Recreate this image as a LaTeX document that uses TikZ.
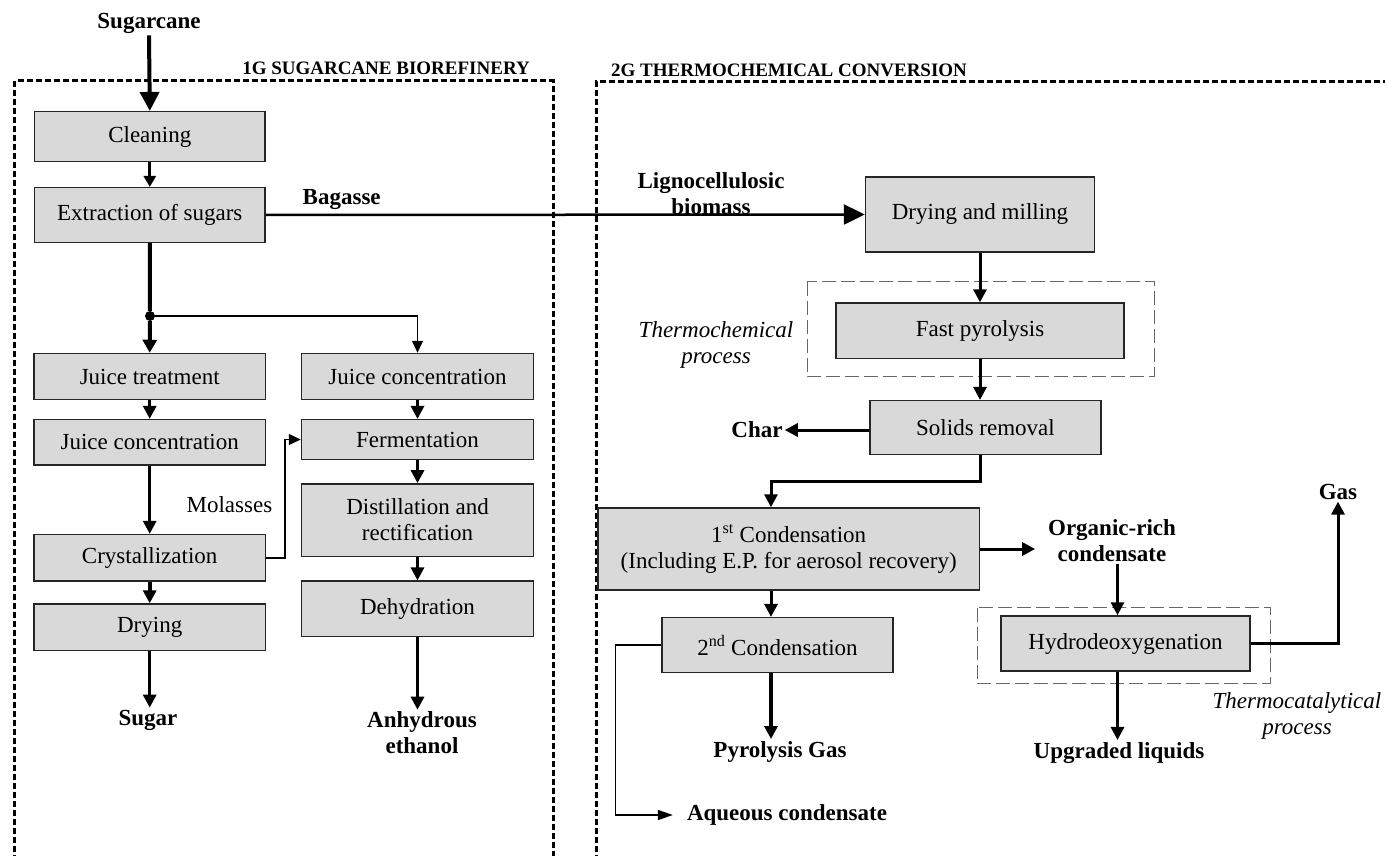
\documentclass[tikz,border=0pt]{standalone}
\usepackage{fontspec}
\setmainfont{Liberation Serif}
\usetikzlibrary{arrows.meta,calc}
\newcommand\bxf{\fontsize{23}{26}\selectfont}
\newcommand\ttlf{\fontsize{19}{22}\selectfont\bfseries}
\tikzset{
  box/.style={draw=black!85, line width=1.5pt, fill=gray!30, inner sep=0pt, align=center, font=\bxf},
  lbl/.style={inner sep=2pt, align=center, font=\bxf\bfseries},
  conn/.style={line width=3pt, -{Triangle[length=13pt,width=13pt]}},
  thinconn/.style={line width=1.5pt, -{Triangle[length=12pt,width=11pt]}},
  bigdash/.style={line width=3pt, dash pattern=on 6pt off 3pt},
  smalldash/.style={draw=black!60, line width=1pt, dash pattern=on 14pt off 5pt},
}
\begin{document}
\begin{tikzpicture}[x=1pt,y=-1pt]
\path[use as bounding box] (0,0) rectangle (1385,856);
\fill[white] (0,0) rectangle (1385,856);
\begin{scope}
\clip (0,0) rectangle (1385,856);
% big dashed regions
\draw[bigdash] (14.7,870) -- (14.7,81) -- (553,81) -- (553,870);
\draw[bigdash] (596,870) -- (596,82) -- (1400,82);
\node[font=\ttlf, inner sep=0pt, anchor=east] (t1) at (530,68) {1G SUGARCANE BIOREFINERY};
\node[font=\ttlf, inner sep=0pt, anchor=west] (t2) at (611,70) {2G THERMOCHEMICAL CONVERSION};

% thin dashed process frames
\draw[smalldash] (807.4,281.7) rectangle (1154,376.7);
\draw[smalldash] (977,607.7) rectangle (1270.5,683.3);

% left column
\node[box, minimum width=230.8pt, minimum height=50pt] (clean) at (149.8,136.7) {Cleaning};
\node[box, minimum width=230.8pt, minimum height=54.6pt] (extr) at (149.8,215) {Extraction of sugars};
\node[box, minimum width=231.3pt, minimum height=46pt] (jtreat) at (149.7,376.5) {Juice treatment};
\node[box, minimum width=231.3pt, minimum height=45.2pt] (jconcL) at (149.7,442.2) {Juice concentration};
\node[box, minimum width=231.3pt, minimum height=46.6pt] (cryst) at (149.7,557.9) {Crystallization};
\node[box, minimum width=231.3pt, minimum height=46.3pt] (dry) at (149.7,627.2) {Drying};
% right column of 1G
\node[box, minimum width=232pt, minimum height=46pt] (jconcR) at (417.5,376.5) {Juice concentration};
\node[box, minimum width=232pt, minimum height=39.7pt] (ferm) at (417.5,439.5) {Fermentation};
\node[box, minimum width=232pt, minimum height=72.4pt] (dist) at (417.5,520.1) {Distillation and\\rectification};
\node[box, minimum width=232pt, minimum height=55.2pt] (dehyd) at (417.5,608.8) {Dehydration};

% 2G boxes
\node[box, minimum width=229pt, minimum height=75pt] (drymill) at (980,214.5) {Drying and milling};
\node[box, minimum width=288.3pt, minimum height=55.3pt] (fastpyr) at (980,330.7) {Fast pyrolysis};
\node[box, minimum width=231pt, minimum height=53.6pt] (solids) at (985.5,427.5) {Solids removal};
\node[box, minimum width=381.4pt, minimum height=82pt] (cond1) at (788.7,549) {1\textsuperscript{st} Condensation\\(Including E.P. for aerosol recovery)};
\node[box, minimum width=231pt, minimum height=55pt] (cond2) at (777.5,645.2) {2\textsuperscript{nd} Condensation};
\node[box, minimum width=249pt, minimum height=55pt] (hdo) at (1125.5,643.5) {Hydrodeoxygenation};

% labels
\node[lbl] (sugarcane) at (149,23) {Sugarcane};
\node[lbl] (sugar) at (148,720) {Sugar};
\node[lbl] (ethanol) at (422,733) {Anhydrous\\ethanol};
\node[lbl] (bagasse) at (341.7,199.3) {Bagasse};
\node[lbl, font=\fontsize{23}{26.7}\selectfont\bfseries] (ligno) at (711,193.5) {Lignocellulosic\\biomass};
\node[lbl, font=\bxf] (molasses) at (229.4,504.8) {Molasses};
\node[lbl, font=\bxf\itshape] (thermo) at (716,345) {Thermochemical\\process};
\node[lbl] (char) at (757,430) {Char};
\node[lbl] (organic) at (1112,540.5) {Organic-rich\\condensate};
\node[lbl] (gas) at (1338,491.7) {Gas};
\node[lbl] (upgraded) at (1119,752.7) {Upgraded liquids};
\node[lbl] (pyrgas) at (780,751.7) {Pyrolysis Gas};
\node[lbl, inner sep=0pt, anchor=west] (aqueous) at (686.8,815) {Aqueous condensate};
\node[lbl, font=\bxf\itshape] (thermocat) at (1297,716) {Thermocatalytical\\process};

% helper columns
\coordinate (colA) at (771,0);
\coordinate (colB) at (1117.5,0);
\node[circle, fill=black, inner sep=0pt, minimum size=10pt] (jn) at (150,316) {};

% 1G connectors
\draw[line width=4pt, -{Triangle[length=19pt,width=19pt]}] (sugarcane.south) -- (clean.north);
\draw[line width=3pt, -{Triangle[length=11pt,width=12pt]}] (clean.south) -- (extr.north);
\draw[line width=4pt] (extr.south) -- (jn);
\draw[line width=4pt, -{Triangle[length=13pt,width=14pt]}] (jn) -- (jtreat.north);
\draw[thinconn] (jn) -| (jconcR.north);
\draw[conn] (jtreat.south) -- (jconcL.north);
\draw[conn] (jconcL.south) -- (cryst.north);
\draw[conn, line width=4pt] (cryst.south) -- (dry.north);
\draw[conn] (dry.south) -- (dry.south |- sugar.north);
\draw[conn] (jconcR.south) -- (ferm.north);
\draw[conn] (ferm.south) -- (dist.north);
\draw[conn] (dist.south) -- (dehyd.north);
\draw[conn] (dehyd.south) -- (dehyd.south |- ethanol.north);
\draw[thinconn] (cryst.east) -- ++(19,0) |- (ferm.west);

% bagasse to 2G
\draw[line width=2.5pt, -{Triangle[length=21pt,width=20pt]}] (extr.east) -- (drymill.west);

% 2G connectors
\draw[conn] (drymill.south) -- (fastpyr.north);
\draw[conn] (fastpyr.south) -- (fastpyr.south |- solids.north);
\draw[conn] (solids.west |- char.east) -- (char.east);
\draw[conn] (fastpyr.south |- solids.south) -- ++(0,26.7) -| (cond1.north -| colA);
\draw[conn] (cond1.east) -- ++(55,0);
\draw[conn] (organic.south -| colB) -- (hdo.north -| colB);
\draw[conn] (hdo.south -| colB) -- (upgraded.north -| colB);
\draw[conn] (hdo.east) -| (gas.south);
\draw[conn] (cond1.south -| colA) -- (cond2.north -| colA);
\draw[conn, line width=4pt] (cond2.south -| colA) -- (pyrgas.north -| colA);
\draw[line width=1.5pt, -{Triangle[length=15pt,width=10pt]}] (cond2.west) -- ++(-46,0) |- ([xshift=-14pt]aqueous.west);
\end{scope}
\end{tikzpicture}
\end{document}
